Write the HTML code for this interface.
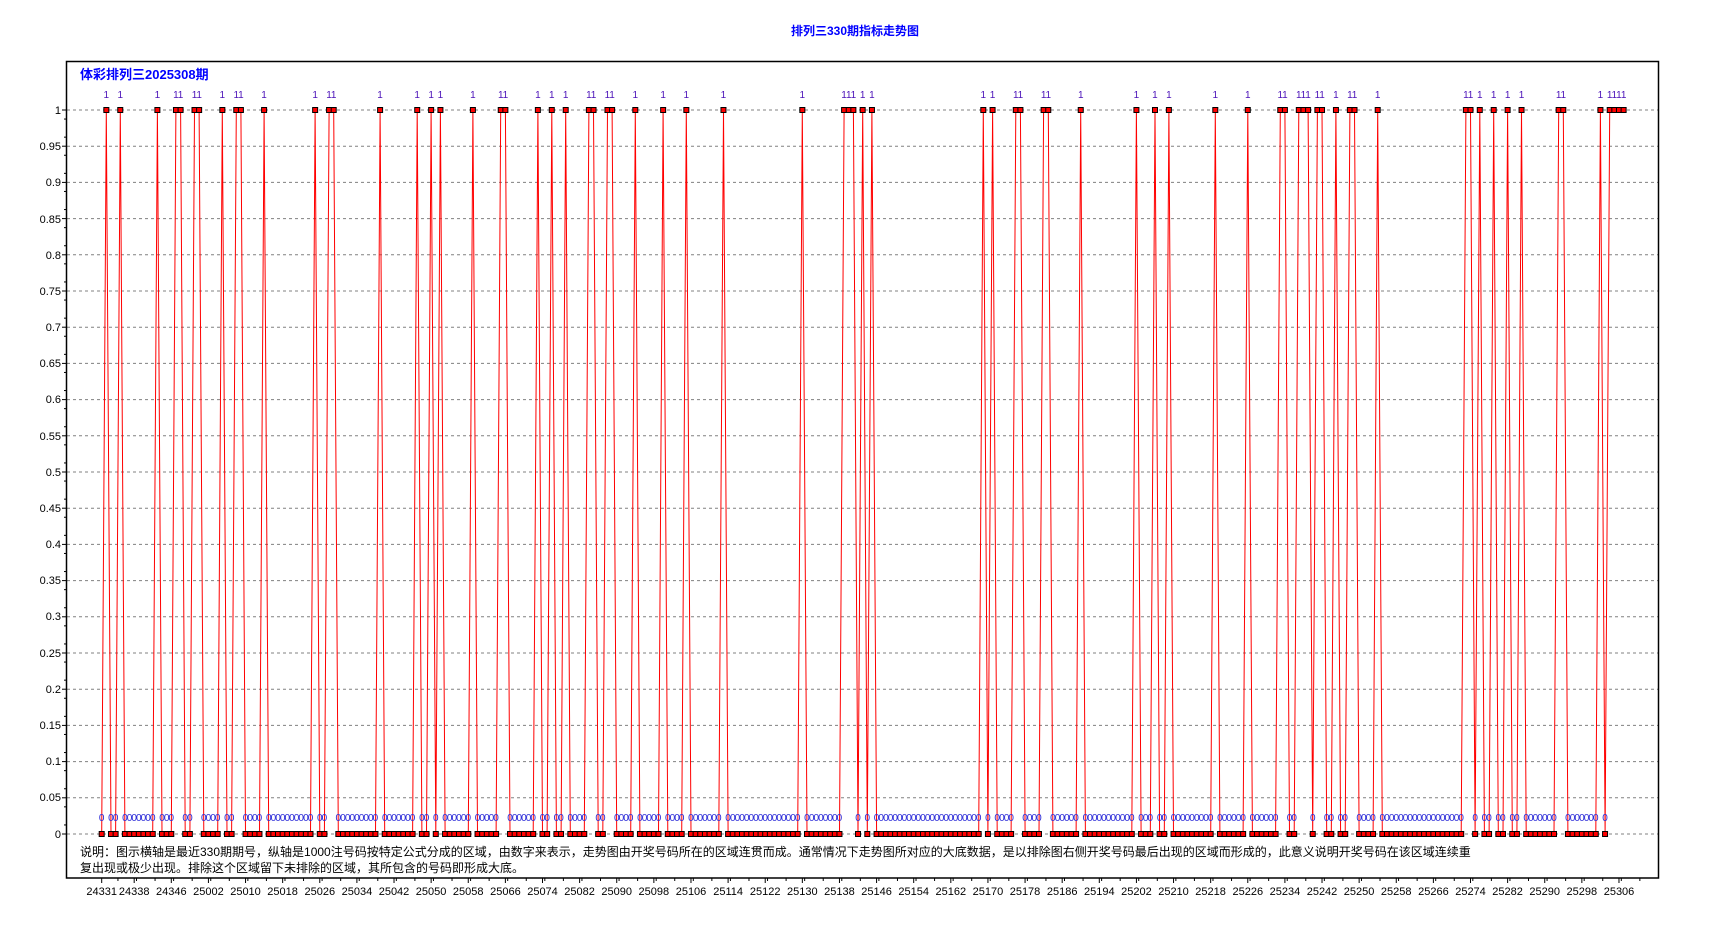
<!DOCTYPE html>
<html><head><meta charset="utf-8">
<style>
html,body{margin:0;padding:0;background:#fff;}
#wrap{position:relative;width:1710px;height:925px;overflow:hidden;font-family:"Liberation Sans","Noto Sans CJK SC",sans-serif;}
.row{position:absolute;left:98.7px;white-space:pre;font-family:"Liberation Sans",sans-serif;font-size:10px;line-height:10px;}
.row span{position:absolute;top:0;width:6px;text-align:center;}
#ones{top:91px;color:#4a10b8;}
#zeros{top:814px;color:#2a2ad8;}
.t{position:absolute;white-space:nowrap;}
</style></head><body><div id="wrap">
<svg id="svg" width="1710" height="925" style="position:absolute;left:0;top:0">
<g id="grid"></g>
<rect x="66.5" y="61.5" width="1592" height="816.5" fill="none" stroke="#000" stroke-width="1.5"/>
<polyline id="line" fill="none" stroke="#ff0000" stroke-width="1"/>
<g id="marks"></g>
<g id="ylab" font-family="Liberation Sans" font-size="11" text-anchor="end" fill="#000">
<text x="61" y="114">1</text><text x="61" y="150">0.95</text><text x="61" y="186">0.9</text><text x="61" y="223">0.85</text><text x="61" y="259">0.8</text><text x="61" y="295">0.75</text><text x="61" y="331">0.7</text><text x="61" y="367">0.65</text><text x="61" y="403">0.6</text><text x="61" y="440">0.55</text><text x="61" y="476">0.5</text><text x="61" y="512">0.45</text><text x="61" y="548">0.4</text><text x="61" y="584">0.35</text><text x="61" y="620">0.3</text><text x="61" y="657">0.25</text><text x="61" y="693">0.2</text><text x="61" y="729">0.15</text><text x="61" y="765">0.1</text><text x="61" y="801">0.05</text><text x="61" y="838">0</text>
</g>
<g id="xlab" font-family="Liberation Sans" font-size="11" text-anchor="middle" fill="#000">
<text x="101.7" y="895">24331</text><text x="134.2" y="895">24338</text><text x="171.3" y="895">24346</text>
<text x="208.4" y="895">25002</text><text x="245.5" y="895">25010</text><text x="282.6" y="895">25018</text><text x="319.8" y="895">25026</text><text x="356.9" y="895">25034</text><text x="394.0" y="895">25042</text><text x="431.1" y="895">25050</text><text x="468.2" y="895">25058</text><text x="505.4" y="895">25066</text><text x="542.5" y="895">25074</text><text x="579.6" y="895">25082</text><text x="616.7" y="895">25090</text><text x="653.8" y="895">25098</text><text x="691.0" y="895">25106</text><text x="728.1" y="895">25114</text><text x="765.2" y="895">25122</text><text x="802.3" y="895">25130</text><text x="839.4" y="895">25138</text><text x="876.6" y="895">25146</text><text x="913.7" y="895">25154</text><text x="950.8" y="895">25162</text><text x="987.9" y="895">25170</text><text x="1025.0" y="895">25178</text><text x="1062.2" y="895">25186</text><text x="1099.3" y="895">25194</text><text x="1136.4" y="895">25202</text><text x="1173.5" y="895">25210</text><text x="1210.6" y="895">25218</text><text x="1247.8" y="895">25226</text><text x="1284.9" y="895">25234</text><text x="1322.0" y="895">25242</text><text x="1359.1" y="895">25250</text><text x="1396.2" y="895">25258</text><text x="1433.4" y="895">25266</text><text x="1470.5" y="895">25274</text><text x="1507.6" y="895">25282</text><text x="1544.7" y="895">25290</text><text x="1581.8" y="895">25298</text><text x="1619.0" y="895">25306</text>
</g>
</svg>
<div class="row" id="ones">1 1 1 11 11 1 11 1 1 11 1 1 1 1 1 11 1 1 1 11 11 1 1 1 1 1 111 1 1 1 1 11 11 1 1 1 1 1 1 11 111 11 1 11 1 11 1 1 1 1 11 1 1111</div>
<div class="row" id="zeros">0 00 0000000 000 00 0000 00 0000 0000000000 00 000000000 0000000 00 0 000000 00000 000000 00 00 0000 00 0000 00000 0000 0000000 000000000000 00000000 0 0 00000000000000000 0 0000 0000 000000 000000000 000 00 0 000000000 000000 000000 00 0 00 00 0000 000000000000000000 0 00 00 00 00 0000000 0000000 0</div>
<div class="t" style="left:0;width:1710px;text-align:center;top:22px;font-size:12px;font-weight:bold;color:#0000ff"><span style="position:relative;left:0px">排列三330期指标走势图</span></div>
<div class="t" style="left:80px;top:64px;font-size:13px;font-weight:bold;color:#0000ff">体彩排列三2025308期</div>
<div class="t" style="left:80px;top:844px;font-size:12px;color:#000;line-height:16px">说明：图示横轴是最近330期期号，纵轴是1000注号码按特定公式分成的区域，由数字来表示，走势图由开奖号码所在的区域连贯而成。通常情况下走势图所对应的大底数据，是以排除图右侧开奖号码最后出现的区域而形成的，此意义说明开奖号码在该区域连续重<br>复出现或极少出现。排除这个区域留下未排除的区域，其所包含的号码即形成大底。</div>
</div>
<script>
(function(){
var ns="http://www.w3.org/2000/svg";
function el(t,a,p){var e=document.createElementNS(ns,t);for(var k in a)e.setAttribute(k,a[k]);p.appendChild(e);return e;}
var s=("0100100000 0010001100 1100001001 1000010000 0000001001 1000000000 1000000010 0101000000 1000001100 0000100100 "+
"1000011001 1000010000 0100001000 0000100000 0000000000 0100000000 1110101000 0000000000 0000000000 1010000110 "+
"0001100000 0100000000 0001000100 1000000000 1000000100 0000110011 1011001001 1000010000 0000000000 0000110100 "+
"1001001000 0000110000 000101111").replace(/ /g,'');
var n=s.length,X0=101.7,S=4.64,Y0=834,Y1=110;
function fill(div,ch){var h='';for(var i=0;i<n;i++){if(s[i]==ch)h+='<span style="left:'+(i*S).toFixed(2)+'px">'+ch+'</span>';}div.innerHTML=h;}
fill(document.getElementById('ones'),'1');fill(document.getElementById('zeros'),'0');
var grid=document.getElementById('grid');
for(var i=0;i<=20;i++){var y=Y0-i*(Y0-Y1)/20;
 el('line',{x1:67,x2:1658,y1:y,y2:y,stroke:'#808080','stroke-dasharray':'3,3','stroke-width':1},grid);
 el('line',{x1:62,x2:67,y1:y,y2:y,stroke:'#000'},grid);}
for(var i=0;i<40;i++){var y=Y0-(i+0.5)*(Y0-Y1)/40;el('line',{x1:64,x2:67,y1:y,y2:y,stroke:'#000'},grid);}
for(var k=0;k<=82;k++){var idx=3.5+k*4;var x=X0+idx*S; if(x>1655)break;
 el('line',{x1:x,x2:x,y1:878,y2:881,stroke:'#000'},grid);}
var lab=[0,7];for(var j=15;j<=327;j+=8)lab.push(j);
lab.forEach(function(j){var x=X0+j*S;el('line',{x1:x,x2:x,y1:878,y2:883,stroke:'#000'},grid);});
var pts=[],m=document.getElementById('marks');
for(var i=0;i<n;i++){var x=X0+i*S,y=s[i]=='1'?Y1:Y0;pts.push(x.toFixed(1)+','+y);}
document.getElementById('line').setAttribute('points',pts.join(' '));
for(var i=0;i<n;i++){var x=X0+i*S,y=s[i]=='1'?Y1:Y0;
 el('rect',{x:x-2.5,y:y-2.5,width:5,height:5,fill:'#ff0000',stroke:'#000','stroke-width':1},m);}
})();
</script>
</body></html>
